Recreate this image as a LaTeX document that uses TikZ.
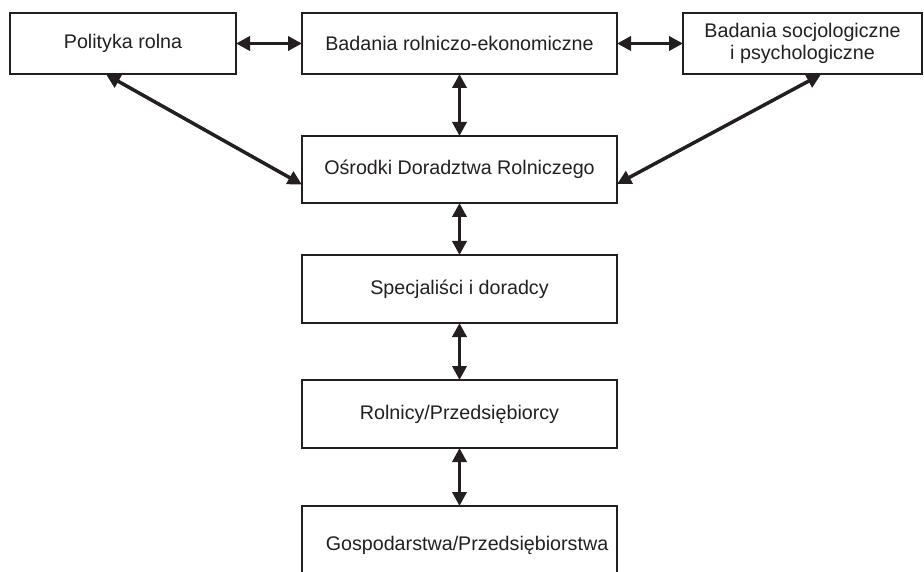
\documentclass[tikz,border=0pt]{standalone}
\usepackage{fontspec}
\setmainfont{Liberation Sans}
\usetikzlibrary{arrows.meta}
\definecolor{ink}{RGB}{35,31,32}
\begin{document}
\begin{tikzpicture}[x=1pt,y=-1pt,
  box/.style={draw=ink,line width=2pt,inner sep=0pt,align=center,text=ink,
    font=\fontsize{19.7}{22}\selectfont},
  lbl/.style={inner sep=0pt,text=ink,font=\fontsize{19.7}{22}\selectfont},
  link/.style={draw=ink,line width=3.5pt,{Triangle[length=14pt,width=14pt]}-{Triangle[length=14pt,width=14pt]},shorten <=-1pt,shorten >=-1pt}]
\useasboundingbox (0,0) rectangle (924,572);
\node[box,minimum width=226pt,minimum height=61pt] (b1) at (123,43.5) {Polityka rolna};
\node[box,minimum width=315pt,minimum height=61pt] (b2) at (459.5,43.5) {Badania rolniczo-ekonomiczne};
\node[box,minimum width=239pt,minimum height=61pt] (b3) at (802.5,43.5) {Badania socjologiczne\\i psychologiczne};
\node[box,minimum width=315pt,minimum height=67pt] (osr) at (459.5,169.5) {Ośrodki Doradztwa Rolniczego};
\node[box,minimum width=315pt,minimum height=68pt] (spec) at (459.5,289) {Specjaliści i doradcy};
\node[box,minimum width=315pt,minimum height=68pt] (roln) at (459.5,414) {Rolnicy/Przedsiębiorcy};
\node[box,minimum width=315pt,minimum height=68pt] (gosp) at (459.5,540) {};
\node[lbl] (gospt) at (467,545) {Gospodarstwa/Przedsiębiorstwa};
\draw[link] (b1.east) -- (b2.west);
\draw[link] (b2.east) -- (b3.west);
\draw[link] (b2.south) -- (osr.north);
\draw[link] ([xshift=-16pt]b1.south) -- ([yshift=-14.5pt]osr.west);
\draw[link] ([xshift=17.5pt]b3.south) -- ([yshift=-14pt]osr.east);
\draw[link] (osr.south) -- (spec.north);
\draw[link] (spec.south) -- (roln.north);
\draw[link] (roln.south) -- (gosp.north);
\end{tikzpicture}
\end{document}
